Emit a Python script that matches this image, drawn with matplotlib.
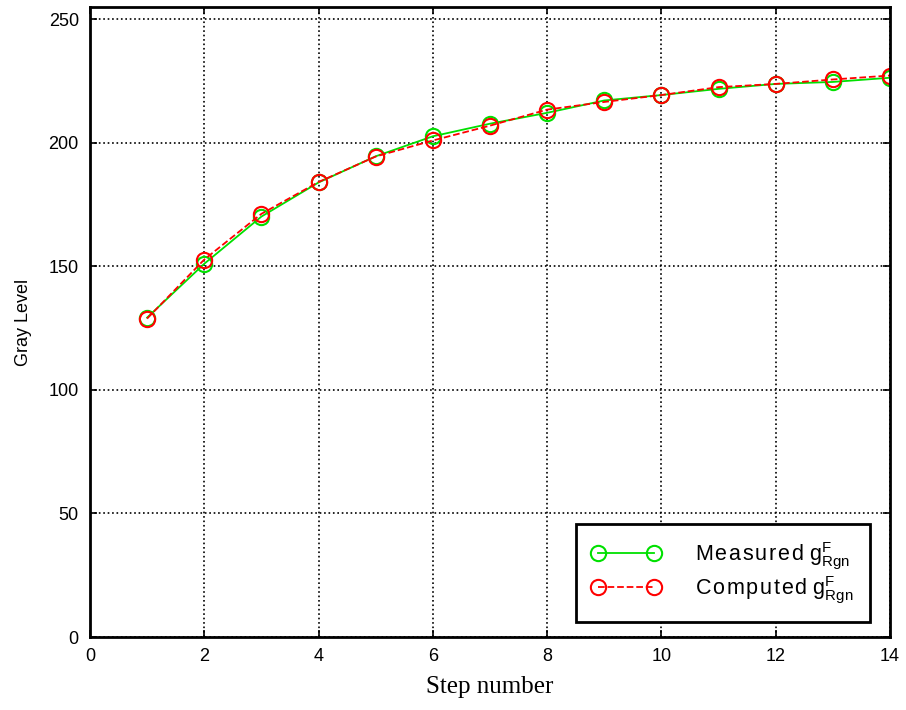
import matplotlib
matplotlib.use('Agg')
import matplotlib.pyplot as plt

# data
steps = [1, 2, 3, 4, 5, 6, 7, 8, 9, 10, 11, 12, 13, 14]
measured = [129.3, 151.1, 170.2, 184.0, 194.6, 202.7, 207.8, 212.2, 217.2, 219.4, 221.9, 223.9, 224.7, 226.4]
computed = [128.9, 152.8, 171.3, 184.2, 194.5, 201.0, 207.0, 213.5, 216.6, 219.4, 222.6, 223.9, 225.7, 227.3]
xticks = [0, 2, 4, 6, 8, 10, 12, 14]
yticks = [0, 50, 100, 150, 200, 250]

plt.rcParams['font.family'] = ['Liberation Sans', 'DejaVu Sans']
plt.rcParams['mathtext.fontset'] = 'custom'
plt.rcParams['mathtext.rm'] = 'Liberation Sans'
plt.rcParams['mathtext.it'] = 'Liberation Sans'


def spaced(word):
    # the original legend text is letter-spaced
    return '\u200a'.join(word)


fig = plt.figure(figsize=(9.06, 7.10), dpi=100)
ax = fig.add_axes([0.0993, 0.1028, 0.8830, 0.8872])

ax.plot(steps, measured, '-', color='#00e000', lw=1.3, marker='o', ms=11,
        mfc='none', mec='#00e000', mew=1.5,
        label=spaced('Measured') + r' $\mathregular{g^F_{Rgn}}$')
ax.plot(steps, computed, '--', color='#ff0000', lw=1.3, marker='o', ms=11,
        mfc='none', mec='#ff0000', mew=1.5,
        label=spaced('Computed') + r' $\mathregular{g^F_{Rgn}}$')

ax.set_xlim(0, 14)
ax.set_ylim(0, 255)
ax.set_xticks(xticks)
ax.set_yticks(yticks)
ax.grid(True, color='black', linestyle=':', linewidth=1.2)
ax.tick_params(direction='in', top=True, right=True, length=5, width=1.2,
               labelsize=13, pad=8)
for sp in ax.spines.values():
    sp.set_linewidth(2)

ax.set_ylabel('Gray Level', fontsize=13, labelpad=12)
ax.set_xlabel('Step number', fontsize=18, family='Liberation Serif', labelpad=8)

leg = ax.legend(loc='lower right', bbox_to_anchor=(870 / 906, 88 / 710),
                bbox_transform=fig.transFigure, borderaxespad=0, numpoints=2,
                fancybox=False, framealpha=1, edgecolor='black', fontsize=15.5,
                handlelength=3.2, handletextpad=1.6, borderpad=0.75, labelspacing=0.12)
leg.get_frame().set_linewidth(2)

fig.savefig('out.png', dpi=100)
